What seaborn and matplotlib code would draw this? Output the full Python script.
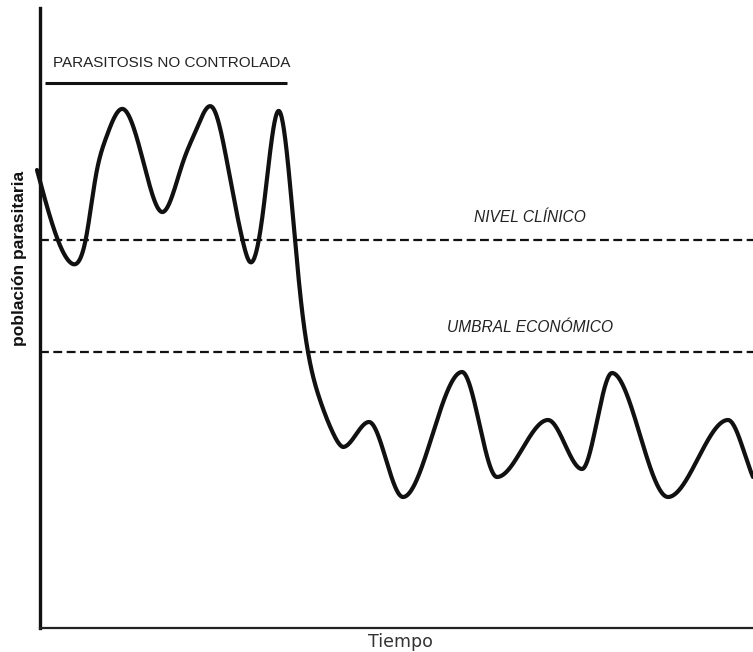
import numpy as np
import pandas as pd
import matplotlib
matplotlib.use("Agg")
import matplotlib.pyplot as plt
import seaborn as sns

# Parasite population over time (arbitrary units): turning points and shoulders
time_pts = [-3, 31, 46, 56, 66, 83, 106, 122, 143, 157, 173, 190, 203, 210,
            223, 239, 255, 262, 268, 280, 293, 303, 329, 363, 422, 457, 508,
            542, 572, 628, 688, 713]
population_pts = [458, 365, 390, 453, 490, 519, 456, 416, 466, 500, 520, 450, 386, 366,
                  416, 517, 388, 318, 276, 228, 195, 181, 206, 131, 256, 151, 208,
                  159, 255, 131, 208, 151]
control_start = 303  # trough where the population settles after control

clinical_level = 388
economic_threshold = 276
uncontrolled_span = [5, 247]
uncontrolled_height = 545

x_label = "Tiempo"
y_label = "población parasitaria"
uncontrolled_label = "PARASITOSIS NO CONTROLADA"
clinical_label = "NIVEL CLÍNICO"
economic_label = "UMBRAL ECONÓMICO"


def natural_spline(x, y, xs):
    """Natural cubic spline through the given points."""
    x = np.asarray(x, float)
    y = np.asarray(y, float)
    n = len(x)
    h = np.diff(x)
    A = np.zeros((n, n))
    b = np.zeros(n)
    A[0, 0] = A[-1, -1] = 1.0
    for i in range(1, n - 1):
        A[i, i - 1] = h[i - 1]
        A[i, i] = 2 * (h[i - 1] + h[i])
        A[i, i + 1] = h[i]
        b[i] = 6 * ((y[i + 1] - y[i]) / h[i] - (y[i] - y[i - 1]) / h[i - 1])
    m = np.linalg.solve(A, b)
    idx = np.clip(np.searchsorted(x, xs) - 1, 0, n - 2)
    hh = h[idx]
    a = (x[idx + 1] - xs) / hh
    c = (xs - x[idx]) / hh
    return (a * y[idx] + c * y[idx + 1]
            + ((a**3 - a) * m[idx] + (c**3 - c) * m[idx + 1]) * hh**2 / 6)


def hermite_curve(x, y, xs):
    """Cubic Hermite curve with flat tangents at peaks and troughs."""
    x = np.asarray(x, float)
    y = np.asarray(y, float)
    n = len(x)
    h = np.diff(x)
    delta = np.diff(y) / h
    d = np.zeros(n)
    for k in range(1, n - 1):
        if delta[k - 1] * delta[k] > 0:
            d[k] = (y[k + 1] - y[k - 1]) / (x[k + 1] - x[k - 1])
    d[0] = delta[0]
    d[-1] = delta[-1]
    idx = np.clip(np.searchsorted(x, xs) - 1, 0, n - 2)
    t = (xs - x[idx]) / h[idx]
    h00 = 2 * t**3 - 3 * t**2 + 1
    h10 = t**3 - 2 * t**2 + t
    h01 = -2 * t**3 + 3 * t**2
    h11 = t**3 - t**2
    return (h00 * y[idx] + h10 * h[idx] * d[idx]
            + h01 * y[idx + 1] + h11 * h[idx] * d[idx + 1])


tt = np.linspace(time_pts[0], time_pts[-1], 2000)
pp = np.where(tt <= control_start,
              natural_spline(time_pts, population_pts, tt),
              hermite_curve(time_pts, population_pts, tt))
curve = pd.DataFrame({"t": tt, "p": pp})

sns.set_style("white")
plt.rcParams["font.family"] = ["Liberation Sans", "DejaVu Sans"]

fig = plt.figure(figsize=(7.53, 6.52), dpi=100)
ax = fig.add_axes([40 / 753, 24 / 652, 713 / 753, 620 / 652])

sns.lineplot(data=curve, x="t", y="p", ax=ax, color="#111111",
             linewidth=3.0, sort=False, clip_on=False)

for level in (clinical_level, economic_threshold):
    ax.axhline(level, color="#111111", linewidth=1.6, dashes=(4, 2))

ax.plot(uncontrolled_span, [uncontrolled_height] * 2, color="#111111",
        linewidth=2.2, solid_capstyle="butt")
ax.text(132, 565, uncontrolled_label, ha="center", va="center",
        fontsize=11, color="#222222")
ax.text(490, 410, clinical_label, ha="center", va="center",
        fontsize=11.2, style="italic", color="#222222")
ax.text(490, 301, economic_label, ha="center", va="center",
        fontsize=11.2, style="italic", color="#222222")

ax.set_xlim(0, 713)
ax.set_ylim(0, 620)
ax.set_xticks([])
ax.set_yticks([])
for side in ("top", "right"):
    ax.spines[side].set_visible(False)
ax.spines["left"].set_linewidth(2.4)
ax.spines["bottom"].set_linewidth(1.6)
ax.spines["left"].set_color("#111111")
ax.spines["bottom"].set_color("#222222")

ax.set_xlabel(x_label, fontsize=12.6, family=["DejaVu Sans"], color="#333333")
ax.xaxis.set_label_coords(360 / 713, -14 / 620)
ax.xaxis.label.set_va("center")
ax.set_ylabel(y_label, fontsize=12.5, fontweight="bold", color="#111111")
ax.yaxis.set_label_coords(-20 / 713, 370 / 620)
ax.yaxis.label.set_va("center")

fig.savefig("out.png", dpi=100)
